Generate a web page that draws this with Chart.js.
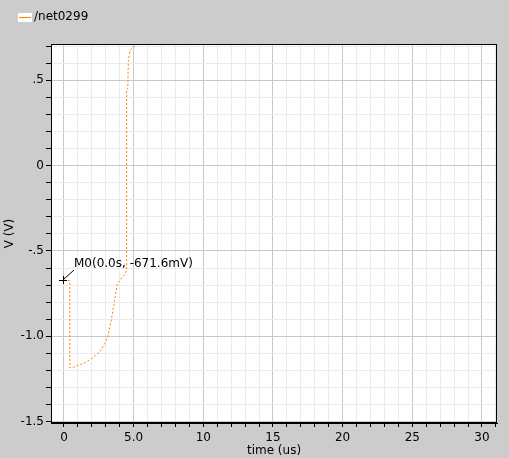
<!DOCTYPE html>
<html>
<head>
<meta charset="utf-8">
<script src="https://cdn.jsdelivr.net/npm/chart.js@4/dist/chart.umd.min.js"></script>
<style>
  html, body { margin: 0; padding: 0; background: #cccccc; }
  #wrap { width: 509px; height: 458px; }
</style>
</head>
<body>
<div id="wrap"><canvas id="lineChart" width="509" height="458"></canvas></div>
<script>
// waveform /net0299 (time in us, volts)
const timeUs = [0, 0.25, 0.42, 0.42, 0.7, 1.05, 1.5, 2.0, 2.6, 2.95, 3.15, 3.38, 3.66, 3.84, 4.1, 4.38, 4.5, 4.5, 4.58, 4.62, 4.75, 5.0, 5.15];
const volts  = [-0.6716, -0.672, -0.675, -1.185, -1.18, -1.17, -1.155, -1.13, -1.087, -1.04, -0.998, -0.91, -0.78, -0.69, -0.665, -0.635, -0.61, 0.447, 0.45, 0.62, 0.678, 0.694, 0.715];

const xTickValues = [0, 5, 10, 15, 20, 25, 30];
const xTickLabels = ['0', '5.0', '10', '15', '20', '25', '30'];
const yTickValues = [-1.5, -1.0, -0.5, 0, 0.5];
const yTickLabels = ['-1.5', '-1.0', '-.5', '0', '.5'];

const markerName = 'M0';
const markerTime = 0;
const markerValue = -0.6716;
const markerText = 'M0(0.0s, -671.6mV)';

const seriesName = '/net0299';
const lineColor = '#ff8000';
const font = { family: 'DejaVu Sans', size: 12 };

function isMajor(list, v) {
  return list.some(t => Math.abs(t - v) < 1e-6);
}

const plotDecor = {
  id: 'plotDecor',
  beforeDraw(chart) {
    const { ctx, chartArea: a } = chart;
    ctx.save();
    ctx.fillStyle = '#cccccc';
    ctx.fillRect(0, 0, chart.width, chart.height);
    ctx.fillStyle = '#ffffff';
    ctx.fillRect(a.left, a.top, a.right - a.left, a.bottom - a.top);
    ctx.restore();
  },
  afterDraw(chart) {
    const { ctx, chartArea: a, scales } = chart;
    ctx.save();
    // frame
    ctx.strokeStyle = '#000000';
    ctx.lineWidth = 1;
    ctx.strokeRect(a.left + 0.5, a.top + 0.5, a.right - a.left - 1, a.bottom - a.top - 1);

    // legend
    ctx.fillStyle = '#ffffff';
    ctx.fillRect(18, 13, 14, 9);
    ctx.strokeStyle = lineColor;
    ctx.beginPath();
    ctx.moveTo(19, 17.5);
    ctx.lineTo(31, 17.5);
    ctx.stroke();
    ctx.fillStyle = '#000000';
    ctx.font = '12px "DejaVu Sans"';
    ctx.textBaseline = 'middle';
    ctx.textAlign = 'left';
    ctx.fillText(seriesName, 34, 17);

    // marker
    const mx = Math.round(scales.x.getPixelForValue(markerTime)) - 1;
    const my = Math.round(scales.y.getPixelForValue(markerValue));
    ctx.strokeStyle = '#000000';
    ctx.beginPath();
    ctx.moveTo(mx - 4, my + 0.5); ctx.lineTo(mx + 4, my + 0.5);
    ctx.moveTo(mx + 0.5, my - 4); ctx.lineTo(mx + 0.5, my + 4);
    ctx.moveTo(mx + 1, my - 1); ctx.lineTo(mx + 11, my - 10);
    ctx.stroke();
    ctx.fillText(markerText, mx + 11, my - 16);
    ctx.restore();
  }
};

new Chart(document.getElementById('lineChart').getContext('2d'), {
  type: 'scatter',
  data: {
    datasets: [{
      label: seriesName,
      data: timeUs.map((t, i) => ({ x: t, y: volts[i] })),
      showLine: true,
      borderColor: lineColor,
      borderWidth: 1,
      borderDash: [2, 2],
      pointRadius: 0,
      fill: false
    }]
  },
  options: {
    responsive: false,
    animation: false,
    layout: { padding: { top: 44, right: 12, left: 0, bottom: 0 } },
    plugins: { legend: { display: false }, tooltip: { enabled: false } },
    scales: {
      x: {
        type: 'linear',
        min: -0.93,
        max: 31.08,
        afterFit(scale) { scale.height = 35; },
        afterBuildTicks(scale) {
          const t = [];
          for (let k = 0; k <= 31; k++) t.push({ value: k });
          scale.ticks = t;
        },
        ticks: {
          autoSkip: false,
          maxRotation: 0,
          padding: 4,
          color: '#000000',
          font: font,
          callback: v => {
            const i = xTickValues.findIndex(t => Math.abs(t - v) < 1e-6);
            return i >= 0 ? xTickLabels[i] : '';
          }
        },
        grid: {
          color: c => isMajor(xTickValues, c.tick ? c.tick.value : NaN) ? '#c8c8c8' : '#ebebeb',
          tickColor: '#000000',
          tickLength: 4
        },
        border: { color: '#000000' },
        title: { display: true, text: 'time (us)', color: '#000000', font: font, padding: 0 }
      },
      y: {
        type: 'linear',
        min: -1.508,
        max: 0.713,
        afterFit(scale) { scale.width = 51; },
        afterBuildTicks(scale) {
          const t = [];
          for (let k = -15; k <= 7; k++) t.push({ value: k / 10 });
          scale.ticks = t;
        },
        ticks: {
          autoSkip: false,
          padding: 2,
          color: '#000000',
          font: font,
          callback: v => {
            const i = yTickValues.findIndex(t => Math.abs(t - v) < 1e-6);
            return i >= 0 ? yTickLabels[i] : '';
          }
        },
        grid: {
          color: c => isMajor(yTickValues, c.tick ? c.tick.value : NaN) ? '#c8c8c8' : '#ebebeb',
          tickColor: '#000000',
          tickLength: 5
        },
        border: { color: '#000000' },
        title: { display: true, text: 'V (V)', color: '#000000', font: font, padding: { top: 3, bottom: 0 } }
      }
    }
  },
  plugins: [plotDecor]
});
</script>
</body>
</html>
